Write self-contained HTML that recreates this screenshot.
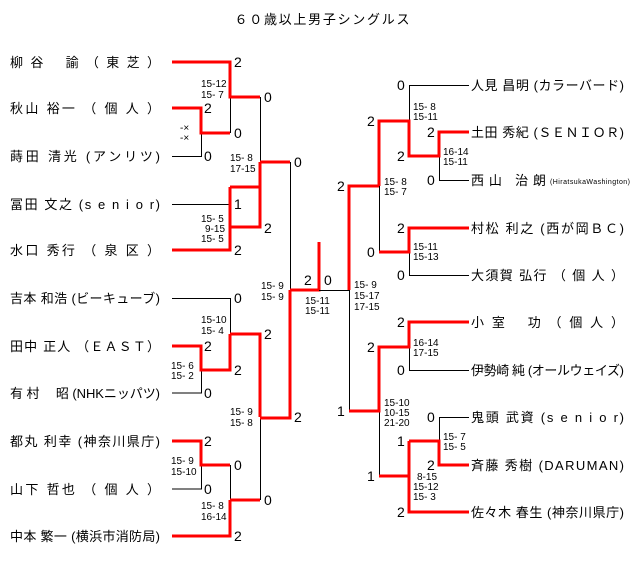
<!DOCTYPE html>
<html><head><meta charset="utf-8"><style>
html,body{margin:0;padding:0;background:#fff;}
svg{display:block;}
text{font-family:"Liberation Sans","Noto Sans CJK JP",sans-serif;fill:#000;}
.n{font-size:13px;}
.s{font-size:14px;}
.m{font-size:10px;}
.r{stroke:#f00;stroke-width:3;fill:none;}
.b{stroke:#000;stroke-width:1;fill:none;}
</style></head><body>
<svg width="640" height="585" viewBox="0 0 640 585">
<text x="322" y="24" class="n" text-anchor="middle" textLength="175">６０歳以上男子シングルス</text>

<path class="b" d="M230.5 97V133 M172 156.5H201.5V108 M260.5 97V162 M172 204.5H230.5V250 M290.5 162V290 M172 298.5H230.5V370 M201.5 370V393H172 M260.5 417V500 M201.5 465V489H172 M230.5 465V536"/>
<path class="r" d="M172 62H230V97H260 M172 108H201V133H230 M260 162H290 M260 162V227H230 M172 250H230V187 M230 187H260 M290 290H319V242 M290 290V418H260 M260 417V334H230 M230 334V370H201V346H172 M172 441H201V465H230 M230 500H260 M230 500V536H172"/>
<path class="b" d="M319 290.5H349.5V411"/>

<path class="b" d="M379.5 186V252 M469 85.5H409.5V121 M439.5 156V180.5H469 M409.5 252V275.5H469 M409.5 347V370.5H469 M379.5 411V476 M469 417.5H439.5V441"/>
<path class="r" d="M349 290V186H379 M379 186V121H409V156H439V132H469 M379 252H409V228H469 M349 411H379V347H409V322H469 M379 476H409 M409 441H439V465H469 M409 441V512H469"/>

<g class="n">
<text x="10" y="67" textLength="150">柳 谷　 諭 （ 東 芝 ）</text>
<text x="10" y="113" textLength="150">秋山 裕一 （ 個 人 ）</text>
<text x="10" y="161" textLength="150">蒔田 清光 (アンリツ)</text>
<text x="10" y="209" textLength="150">冨田 文之 (s e n i o r)</text>
<text x="10" y="255" textLength="150">水口 秀行 （ 泉 区 ）</text>
<text x="10" y="303" textLength="150">吉本 和浩 (ビーキューブ)</text>
<text x="10" y="351" textLength="150">田中 正人 （ＥＡＳＴ）</text>
<text x="10" y="398" textLength="150">有 村　 昭 (NHKニッパツ)</text>
<text x="10" y="446" textLength="150">都丸 利幸 (神奈川県庁)</text>
<text x="10" y="494" textLength="150">山下 哲也 （ 個 人 ）</text>
<text x="10" y="541" textLength="150">中本 繁一 (横浜市消防局)</text>
</g>
<g class="n">
<text x="471" y="90" textLength="153">人見 昌明 (カラーバード)</text>
<text x="471" y="137" textLength="153">土田 秀紀 (ＳＥＮＩＯＲ)</text>
<text x="471" y="185" textLength="75">西山 治朗</text>
<text x="550" y="184" style="font-size:7px" textLength="80">(HiratsukaWashington)</text>
<text x="471" y="233" textLength="153">村松 利之 (西が岡ＢＣ)</text>
<text x="471" y="280" textLength="153">大須賀 弘行 （ 個 人 ）</text>
<text x="471" y="327" textLength="153">小 室　 功 （ 個 人 ）</text>
<text x="471" y="375" textLength="153">伊勢崎 純 (オールウェイズ)</text>
<text x="471" y="422" textLength="153">鬼頭 武資 (s e n i o r)</text>
<text x="471" y="470" textLength="153">斉藤 秀樹 (DARUMAN)</text>
<text x="471" y="517" textLength="153">佐々木 春生 (神奈川県庁)</text>
</g>

<g class="s">
<text x="234" y="67">2</text><text x="204" y="113">2</text><text x="234" y="138">0</text><text x="204" y="161">0</text>
<text x="264" y="102">0</text><text x="234" y="209">1</text><text x="234" y="255">2</text><text x="264" y="233">2</text>
<text x="294" y="167">0</text><text x="234" y="303">0</text><text x="204" y="351">2</text><text x="234" y="375">2</text>
<text x="204" y="398">0</text><text x="264" y="339">2</text><text x="294" y="422">2</text><text x="204" y="446">2</text>
<text x="234" y="470">0</text><text x="204" y="494">0</text><text x="264" y="505">0</text><text x="234" y="541">2</text>
<text x="304" y="285">2</text><text x="324" y="285">0</text>
<text x="337" y="191">2</text><text x="337" y="416">1</text>
<text x="367" y="126">2</text><text x="367" y="257">0</text><text x="367" y="352">2</text><text x="367" y="481">1</text>
<text x="397" y="90">0</text><text x="397" y="161">2</text><text x="427" y="137">2</text><text x="427" y="185">0</text>
<text x="397" y="233">2</text><text x="397" y="280">0</text><text x="397" y="327">2</text><text x="397" y="375">0</text>
<text x="427" y="422">0</text><text x="427" y="470">2</text><text x="397" y="446">1</text><text x="397" y="517">2</text>
</g>

<g class="m">
<text x="201" y="87">15-12</text><text x="201" y="98">15- 7</text>
<text x="180" y="131">-×</text><text x="180" y="141">-×</text>
<text x="230" y="161">15- 8</text><text x="230" y="172">17-15</text>
<text x="201" y="222">15- 5</text><text x="205" y="232">9-15</text><text x="201" y="242">15- 5</text>
<text x="261" y="289">15- 9</text><text x="261" y="300">15- 9</text>
<text x="201" y="323">15-10</text><text x="201" y="334">15- 4</text>
<text x="171" y="369">15- 6</text><text x="171" y="379">15- 2</text>
<text x="230" y="415">15- 9</text><text x="230" y="426">15- 8</text>
<text x="171" y="464">15- 9</text><text x="171" y="475">15-10</text>
<text x="201" y="509">15- 8</text><text x="201" y="520">16-14</text>
<text x="305" y="304">15-11</text><text x="305" y="314">15-11</text>
<text x="354" y="288">15- 9</text><text x="354" y="299">15-17</text><text x="354" y="310">17-15</text>
<text x="413" y="110">15- 8</text><text x="413" y="120">15-11</text>
<text x="443" y="155">16-14</text><text x="443" y="165">15-11</text>
<text x="384" y="185">15- 8</text><text x="384" y="195">15- 7</text>
<text x="413" y="250">15-11</text><text x="413" y="260">15-13</text>
<text x="413" y="346">16-14</text><text x="413" y="356">17-15</text>
<text x="384" y="406">15-10</text><text x="384" y="416">10-15</text><text x="384" y="426">21-20</text>
<text x="443" y="440">15- 7</text><text x="443" y="450">15- 5</text>
<text x="417" y="480">8-15</text><text x="413" y="490">15-12</text><text x="413" y="500">15- 3</text>
</g>
</svg>
</body></html>
